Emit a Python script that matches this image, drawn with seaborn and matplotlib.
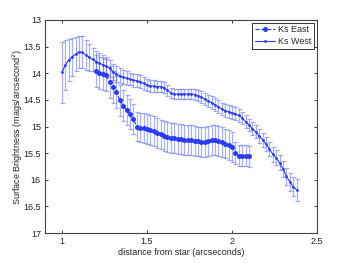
import numpy as np
import pandas as pd
import matplotlib
matplotlib.use('Agg')
import matplotlib.pyplot as plt
from matplotlib.ticker import FormatStrFormatter
import seaborn as sns

#style
sns.set_style('ticks')
plt.rcParams['font.family'] = ['Liberation Sans', 'DejaVu Sans']

#colours
line_blue = '#2b3df2'
bar_blue = '#5566f0'

#data - Ks West
west_x = [1.00, 1.02, 1.04, 1.06, 1.08, 1.10, 1.12, 1.14, 1.16, 1.18,
          1.20, 1.22, 1.24, 1.26, 1.28, 1.30, 1.32, 1.34, 1.36, 1.38,
          1.40, 1.42, 1.44, 1.46, 1.48, 1.50, 1.52, 1.54, 1.56, 1.58,
          1.60, 1.62, 1.64, 1.66, 1.68, 1.70, 1.72, 1.74, 1.76, 1.78,
          1.80, 1.82, 1.84, 1.86, 1.88, 1.90, 1.92, 1.94, 1.96, 1.98,
          2.00, 2.02, 2.04, 2.06, 2.08, 2.10, 2.12, 2.14, 2.16, 2.18,
          2.20, 2.22, 2.24, 2.26, 2.28, 2.30, 2.32, 2.34, 2.36, 2.38]
west_y = [13.98, 13.84, 13.75, 13.69, 13.64, 13.60, 13.61, 13.66, 13.70, 13.74,
          13.78, 13.81, 13.84, 13.87, 13.91, 13.97, 14.02, 14.05, 14.07, 14.09,
          14.11, 14.13, 14.14, 14.16, 14.19, 14.22, 14.24, 14.24, 14.25, 14.25,
          14.27, 14.32, 14.37, 14.39, 14.39, 14.39, 14.39, 14.39, 14.39, 14.40,
          14.42, 14.45, 14.48, 14.52, 14.55, 14.59, 14.63, 14.67, 14.70, 14.72,
          14.74, 14.76, 14.79, 14.84, 14.91, 14.97, 15.04, 15.10, 15.18, 15.25,
          15.33, 15.42, 15.52, 15.59, 15.68, 15.80, 15.93, 16.04, 16.13, 16.19]
west_err = [0.57, 0.47, 0.40, 0.36, 0.32, 0.30, 0.30, 0.28, 0.25, 0.22,
            0.20, 0.19, 0.18, 0.17, 0.16, 0.15, 0.15, 0.14, 0.14, 0.13,
            0.12, 0.12, 0.12, 0.12, 0.12, 0.12, 0.11, 0.11, 0.11, 0.11,
            0.10, 0.10, 0.10, 0.10, 0.10, 0.10, 0.10, 0.10, 0.10, 0.10,
            0.10, 0.11, 0.11, 0.11, 0.12, 0.12, 0.12, 0.12, 0.12, 0.12,
            0.12, 0.12, 0.12, 0.12, 0.12, 0.12, 0.12, 0.12, 0.13, 0.13,
            0.13, 0.13, 0.14, 0.14, 0.14, 0.15, 0.16, 0.17, 0.18, 0.20]

#data - Ks East
east_x = [1.20, 1.22, 1.24, 1.26, 1.28, 1.30, 1.32, 1.34, 1.36, 1.38,
          1.40, 1.42, 1.44, 1.46, 1.48, 1.50, 1.52, 1.54, 1.56, 1.58,
          1.60, 1.62, 1.64, 1.66, 1.68, 1.70, 1.72, 1.74, 1.76, 1.78,
          1.80, 1.82, 1.84, 1.86, 1.88, 1.90, 1.92, 1.94, 1.96, 1.98,
          2.00, 2.02, 2.04, 2.06, 2.08, 2.10]
east_y = [13.95, 14.00, 14.02, 14.04, 14.16, 14.25, 14.35, 14.51, 14.61, 14.69,
          14.77, 14.86, 15.00, 15.02, 15.03, 15.04, 15.06, 15.08, 15.12, 15.15,
          15.18, 15.20, 15.21, 15.22, 15.23, 15.24, 15.25, 15.26, 15.26, 15.27,
          15.28, 15.29, 15.29, 15.27, 15.25, 15.25, 15.27, 15.29, 15.32, 15.35,
          15.38, 15.50, 15.55, 15.55, 15.55, 15.56]
east_err = [0.30, 0.30, 0.30, 0.30, 0.30, 0.30, 0.30, 0.29, 0.29, 0.28,
            0.28, 0.28, 0.28, 0.28, 0.28, 0.28, 0.28, 0.28, 0.28, 0.28,
            0.28, 0.28, 0.28, 0.28, 0.28, 0.28, 0.28, 0.28, 0.28, 0.28,
            0.28, 0.28, 0.28, 0.28, 0.28, 0.28, 0.28, 0.28, 0.28, 0.28,
            0.28, 0.20, 0.20, 0.20, 0.20, 0.20]

west = pd.DataFrame({'dist': west_x, 'sb': west_y, 'err': west_err})
east = pd.DataFrame({'dist': east_x, 'sb': east_y, 'err': east_err})

fig = plt.figure(figsize=(3.5, 2.63), dpi=100)
ax = fig.add_axes([0.1286, 0.114, 0.777, 0.810])

#error bars first so the points sit on top
for d in (east, west):
    ax.errorbar(d['dist'], d['sb'], yerr=d['err'], fmt='none',
                ecolor=bar_blue, elinewidth=0.9, capsize=1.8,
                capthick=0.9, alpha=0.5, zorder=1)

sns.lineplot(data=east, x='dist', y='sb', ax=ax, color=line_blue,
             linestyle='--', linewidth=0.8, marker='o', markersize=3.6,
             markeredgewidth=0, label='Ks East', zorder=3)
sns.lineplot(data=west, x='dist', y='sb', ax=ax, color=line_blue,
             linestyle='-', linewidth=0.8, marker='o', markersize=2,
             markeredgewidth=0, label='Ks West', zorder=3)

#axes
ax.set_xlim(0.9, 2.5)
ax.set_ylim(17, 13)
ax.set_xticks([1, 1.5, 2, 2.5])
ax.set_yticks([13, 13.5, 14, 14.5, 15, 15.5, 16, 16.5, 17])
ax.xaxis.set_major_formatter(FormatStrFormatter('%g'))
ax.yaxis.set_major_formatter(FormatStrFormatter('%g'))
ax.tick_params(direction='in', length=2.5, width=0.6, labelsize=6.5,
               top=True, right=True, pad=3, colors='#222222')
for s in ax.spines.values():
    s.set_linewidth(0.8)
    s.set_color('#444444')

ax.set_xlabel('distance from star (arcseconds)', fontsize=6.5, labelpad=1)
ax.set_ylabel('Surface Brightness (mags/arcsecond$^2$)', fontsize=6.5)
ax.yaxis.set_label_coords(-0.075, 0.5)

#legend
leg = ax.legend(loc='upper right', fontsize=6.5, frameon=True, fancybox=False,
                borderaxespad=0.3, handlelength=2.2, borderpad=0.3,
                labelspacing=0.3, handletextpad=0.4)
leg.get_frame().set_edgecolor('black')
leg.get_frame().set_linewidth(0.7)

fig.savefig('out.png', dpi=100)
